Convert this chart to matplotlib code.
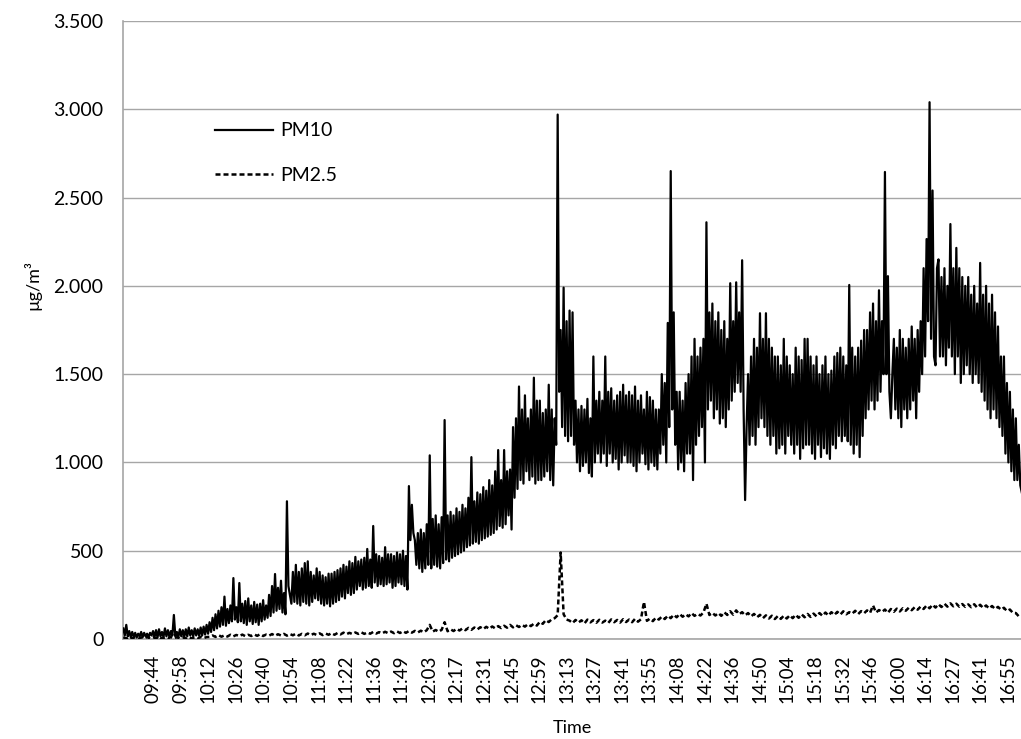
import numpy as np
import matplotlib
matplotlib.use("Agg")
import matplotlib.pyplot as plt
from matplotlib.ticker import FuncFormatter

# ---------------- data ----------------
start_minute = 9 * 60 + 29      # first sample 09:29
pm10_step = 0.75
pm25_step = 1.5                 # sampling step of the digitised PM2.5 series (min)

pm10 = [
    60, 20, 80, 15, 45, 10, 40, 12, 35, 8, 30, 15, 40, 10, 35, 15, 30, 10, 35, 20,
    45, 10, 50, 8, 55, 15, 40, 10, 60, 15, 50, 12, 45, 20, 136, 15, 40, 10, 55, 15,
    50, 12, 55, 15, 65, 20, 50, 15, 60, 20, 55, 18, 65, 20, 70, 25, 80, 30, 95, 40,
    120, 50, 140, 60, 160, 70, 180, 80, 240, 75, 170, 90, 190, 100, 345, 110, 180, 95, 317, 100,
    200, 90, 215, 80, 230, 100, 190, 85, 210, 95, 195, 80, 200, 100, 220, 110, 190, 120, 250, 130,
    300, 150, 368, 160, 290, 170, 330, 150, 260, 140, 780, 300, 250, 200, 380, 210, 420, 200, 380, 190,
    400, 210, 430, 200, 440, 190, 380, 210, 360, 230, 400, 220, 380, 200, 360, 190, 350, 200, 370, 185,
    370, 200, 380, 210, 390, 220, 400, 240, 420, 230, 410, 260, 440, 250, 430, 260, 465, 280, 440, 300,
    450, 280, 460, 290, 510, 300, 450, 290, 640, 320, 480, 300, 470, 310, 460, 300, 520, 310, 480, 320,
    480, 290, 470, 300, 490, 320, 480, 310, 500, 300, 470, 280, 866, 560, 760, 600, 560, 420, 600, 400,
    620, 380, 600, 400, 650, 420, 1040, 400, 680, 420, 700, 410, 650, 400, 690, 430, 1240, 450, 700, 440,
    720, 460, 700, 470, 740, 480, 720, 490, 760, 500, 740, 520, 800, 530, 1030, 540, 780, 550, 830, 540,
    820, 560, 860, 570, 840, 580, 900, 590, 870, 600, 950, 620, 1070, 640, 900, 630, 1070, 650, 950, 700,
    960, 620, 1200, 800, 1250, 850, 1430, 900, 1300, 880, 1380, 950, 1250, 900, 1300, 920, 1480, 880, 1350, 900,
    1350, 900, 1280, 920, 1300, 950, 1440, 900, 1300, 870, 1250, 1100, 2970, 1400, 1750, 1200, 1990, 1150, 1800, 1120,
    1860, 1150, 1850, 1100, 1350, 1000, 1300, 950, 1320, 980, 1300, 1000, 1360, 940, 1250, 920, 1600, 1000, 1350, 1050,
    1400, 1000, 1350, 1050, 1600, 980, 1400, 1050, 1420, 1000, 1350, 1020, 1380, 960, 1400, 1000, 1440, 1040, 1380, 1000,
    1400, 1000, 1380, 980, 1430, 950, 1350, 1000, 1380, 1050, 1300, 990, 1400, 960, 1370, 1000, 1350, 980, 1300, 960,
    1300, 1050, 1500, 1100, 1450, 1000, 1790, 1200, 2650, 1300, 1850, 1100, 1400, 960, 1400, 1000, 1350, 950, 1450, 1050,
    1500, 1050, 1600, 900, 1700, 1100, 1600, 1150, 1650, 1200, 1700, 1000, 2360, 1300, 1850, 1350, 1900, 1250, 1800, 1300,
    1850, 1220, 1750, 1250, 1800, 1200, 1700, 1300, 2015, 1350, 1800, 1400, 2020, 1450, 1850, 1400, 2145, 1300, 787, 1200,
    1500, 1100, 1600, 1150, 1700, 1100, 1650, 1200, 1845, 1250, 1700, 1200, 1845, 1150, 1700, 1100, 1650, 1150, 1600, 1050,
    1600, 1080, 1550, 1100, 1700, 1050, 1600, 1150, 1550, 1100, 1500, 1050, 1650, 1100, 1600, 1020, 1580, 1080, 1700, 1100,
    1700, 1100, 1600, 1050, 1550, 1020, 1600, 1100, 1500, 1030, 1550, 1080, 1600, 1050, 1500, 1020, 1520, 1100, 1600, 1080,
    1620, 1150, 1650, 1120, 1600, 1150, 1550, 1120, 2005, 1100, 1650, 1050, 1600, 1100, 1650, 1030, 1690, 1150, 1750, 1250,
    1750, 1300, 1850, 1350, 1900, 1300, 1800, 1350, 1975, 1400, 1800, 1500, 2645, 1500, 2055, 1400, 1250, 1500, 1700, 1300,
    1650, 1250, 1750, 1200, 1700, 1300, 1650, 1250, 1700, 1300, 1770, 1350, 1700, 1250, 1750, 1400, 1800, 1500, 2100, 1600,
    2265, 1800, 3040, 1700, 2540, 1600, 1550, 2100, 2150, 1600, 2050, 1600, 2100, 1550, 2000, 1650, 2350, 1600, 2100, 1500,
    2215, 1600, 2100, 1450, 2050, 1500, 2000, 1550, 2050, 1500, 1950, 1450, 2000, 1500, 1900, 1450, 2130, 1400, 1950, 1350,
    2000, 1300, 1900, 1250, 1950, 1300, 1850, 1250, 1770, 1200, 1600, 1150, 1600, 1050, 1450, 1000, 1400, 950, 1300, 900,
    1250, 900, 1100, 870, 830,
]

pm25 = [
    10, 3, 11, 4, 10, 2, 9, 4, 11, 3,
    10, 3, 11, 3, 9, 4, 11, 3, 10, 3,
    9, 3, 11, 4, 10, 3, 12, 5, 11, 12,
    20, 12, 22, 13, 21, 14, 24, 15, 23, 16,
    25, 16, 24, 17, 26, 18, 27, 17, 25, 19,
    28, 18, 27, 20, 29, 19, 28, 21, 30, 20,
    29, 21, 31, 22, 30, 23, 32, 22, 31, 24,
    33, 24, 34, 26, 36, 27, 35, 28, 37, 29,
    38, 29, 37, 30, 40, 31, 39, 32, 41, 33,
    42, 33, 43, 34, 44, 35, 45, 36, 46, 37,
    47, 38, 50, 80, 42, 51, 41, 52, 95, 44,
    55, 45, 58, 48, 60, 50, 63, 52, 65, 54,
    67, 56, 69, 58, 71, 60, 73, 62, 75, 64,
    80, 66, 78, 68, 80, 70, 84, 73, 87, 76,
    97, 86, 107, 96, 112, 118, 135, 490, 140, 110,
    104, 90, 108, 93, 106, 88, 110, 94, 107, 92,
    109, 93, 104, 91, 111, 95, 108, 93, 112, 96,
    110, 95, 114, 98, 112, 210, 103, 115, 101, 121,
    110, 127, 113, 132, 118, 137, 123, 142, 126, 140,
    128, 147, 131, 142, 133, 150, 200, 136, 148, 133,
    147, 131, 152, 136, 157, 138, 162, 140, 152, 134,
    147, 128, 142, 123, 137, 118, 134, 116, 132, 113,
    130, 114, 132, 116, 134, 118, 137, 120, 140, 123,
    142, 125, 144, 128, 147, 131, 150, 133, 152, 136,
    154, 138, 157, 140, 152, 143, 160, 141, 158, 146,
    162, 148, 190, 150, 164, 153, 167, 148, 170, 154,
    172, 156, 174, 160, 177, 163, 180, 166, 184, 170,
    190, 174, 194, 178, 197, 181, 200, 183, 202, 185,
    200, 183, 198, 182, 196, 180, 197, 178, 194, 176,
    190, 173, 187, 170, 182, 166, 177, 158, 167, 148,
    147, 128, 125,
]

time_labels = [
    "09:44", "09:58", "10:12", "10:26", "10:40", "10:54", "11:08", "11:22",
    "11:36", "11:49", "12:03", "12:17", "12:31", "12:45", "12:59", "13:13",
    "13:27", "13:41", "13:55", "14:08", "14:22", "14:36", "14:50", "15:04",
    "15:18", "15:32", "15:46", "16:00", "16:14", "16:27", "16:41", "16:55",
]
series_names = ["PM10", "PM2.5"]
y_label = "µg/m³"
x_label = "Time"

# ---------------- plotting ----------------
plt.rcParams["font.family"] = ["Lato", "DejaVu Sans"]

times10 = start_minute + pm10_step * np.arange(len(pm10))
times25 = start_minute + pm25_step * np.arange(len(pm25))

fig = plt.figure(figsize=(10.21, 7.39), dpi=100)
ax = fig.add_axes([123 / 1021, 100 / 739, 898 / 1021, 618 / 739])

ax.plot(times10, pm10, color="black", lw=1.6, label=series_names[0], zorder=3)
ax.plot(times25, pm25, color="black", lw=1.8, linestyle=(0, (2.0, 1.2)),
        label=series_names[1], zorder=3)

ax.set_ylim(0, 3500)
ax.set_yticks(np.arange(0, 3501, 500))
ax.yaxis.set_major_formatter(FuncFormatter(lambda v, p: f"{int(v):,}".replace(",", ".")))
ax.set_xlim(568.85, 1021.6)

first = 9 * 60 + 44
last = 16 * 60 + 55
ax.set_xticks(np.linspace(first, last, len(time_labels)))
ax.set_xticklabels(time_labels, rotation=90)

ax.grid(axis="y", color="#a6a6a6", lw=1.0, zorder=0)
ax.set_axisbelow(True)
for s in ["top", "right"]:
    ax.spines[s].set_visible(False)
for s in ["left", "bottom"]:
    ax.spines[s].set_color("#a6a6a6")
    ax.spines[s].set_linewidth(1.2)

ax.tick_params(axis="y", length=0, pad=14, labelsize=14, colors="black")
ax.tick_params(axis="x", length=0, pad=11, labelsize=13.5, colors="black")

ax.set_ylabel(y_label, fontsize=13)
ax.yaxis.label.set_va("center")
ax.yaxis.set_label_coords(-0.101, 0.573)
ax.set_xlabel(x_label, fontsize=13, labelpad=12)

leg = ax.legend(loc="upper left", bbox_to_anchor=(0.1026, 0.836), frameon=False,
                fontsize=14, handlelength=3.0, handletextpad=0.36, labelspacing=1.41,
                borderpad=0, borderaxespad=0)

fig.savefig("out.png", dpi=100)
